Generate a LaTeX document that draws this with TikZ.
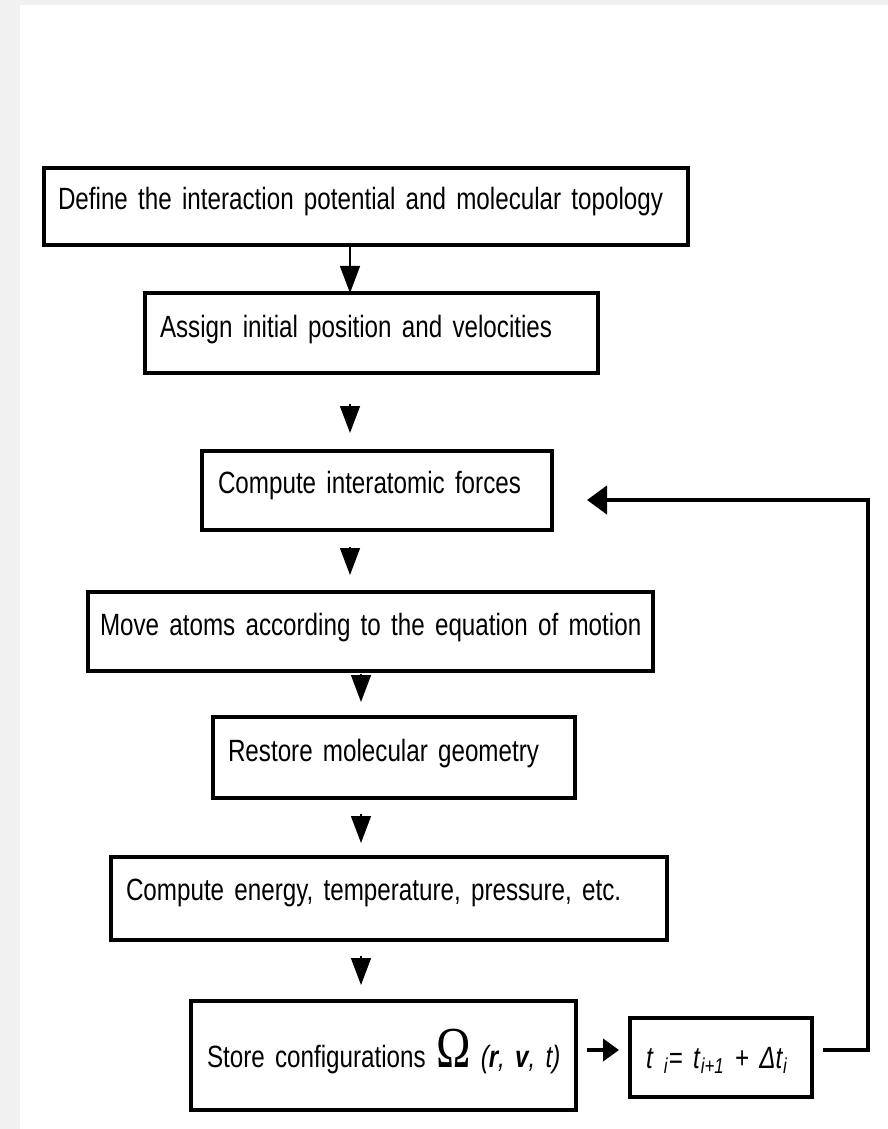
\documentclass[tikz,border=0pt]{standalone}
\usepackage{fontspec}
\setmainfont{Liberation Sans}[FakeStretch=0.787]
\newfontfamily\omegafont{Liberation Serif}[FakeStretch=0.8]
\usepackage{tikz}
\usetikzlibrary{arrows.meta,positioning,calc}
\definecolor{pagegray}{HTML}{F1F1F1}
\newcommand{\stagefont}{\fontsize{17.5}{21}\selectfont}
\tikzset{stage/.style={draw,line width=2.3pt,anchor=north west,outer sep=0pt,
  inner ysep=0pt,align=left,font=\stagefont},
  down/.style={-{Triangle[length=5.4mm,width=4mm]},line width=0.8pt},
  flow/.style={-{Triangle[length=3.2mm,width=4.4mm]},line width=2.6pt},
  back/.style={-{Triangle[length=4mm,width=5.6mm]},line width=2.6pt}}
\begin{document}
\begin{tikzpicture}
 \useasboundingbox (0,0) rectangle (17.76,-22.58);
 % page
 \fill[pagegray] (0,0) rectangle (17.76,-22.58);
 \fill[white] (0.40,-0.10) rectangle (17.76,-22.58);
 % steps of the run
 \node[stage,inner xsep=0.28cm,text width=12.32cm,text height=0.84cm,text depth=0.70cm]
  (topo) at (0.88,-3.36) {\mbox{Define the interaction potential and molecular topology}};
 \node[stage,inner xsep=0.30cm,text width=8.46cm,text height=0.88cm,text depth=0.72cm]
  (init) at (2.90,-5.86) {Assign initial position and velocities};
 \node[stage,inner xsep=0.32cm,text width=6.36cm,text height=0.84cm,text depth=0.74cm]
  (force) at (4.04,-9.02) {Compute interatomic forces};
 \node[stage,inner xsep=0.24cm,text width=10.82cm,text height=0.86cm,text depth=0.72cm]
  (move) at (1.76,-11.84) {\mbox{Move atoms according to the equation of motion}};
 \node[stage,inner xsep=0.30cm,text width=6.64cm,text height=0.88cm,text depth=0.74cm]
  (restore) at (4.26,-14.34) {Restore molecular geometry};
 \node[stage,inner xsep=0.30cm,text width=10.52cm,text height=0.86cm,text depth=0.80cm]
  (props) at (2.22,-17.14) {\mbox{Compute energy, temperature, pressure, etc.}};
 \node[stage,inner xsep=0.32cm,text width=7.06cm,text height=1.32cm,text depth=0.86cm]
  (store) at (3.82,-20.02) {\mbox{Store configurations {\omegafont\fontsize{33}{33}\selectfont Ω}
  \textit{(\textbf{r}, \textbf{v}, t)}}};
 \node[stage,inner xsep=0.32cm,text width=3.00cm,text height=1.00cm,text depth=0.58cm]
  (step) at (12.60,-20.36) {\textit{t} \textsubscript{\textit{i}}= \textit{t}\textsubscript{\textit{i+1}}
  + \textit{Δt}\textsubscript{\textit{i}}};
 % connectors
 \coordinate (colA) at (7.00,0);
 \coordinate (colB) at (7.22,0);
 \coordinate (rowT) at (0,-21.00);
 \coordinate (r1) at (17.36,-21.00);
 \coordinate (r2) at (17.36,-10.00);
 \draw[down] (topo.south -| colA) -- (init.north -| colA);
 \draw[down,shorten <=6.2mm,shorten >=3.6mm] (init.south -| colA) -- (force.north -| colA);
 \draw[down,shorten <=3.4mm,shorten >=3.4mm] (force.south -| colA) -- (move.north -| colA);
 \draw[down,shorten <=0.6mm,shorten >=3mm] (move.south -| colB) -- (restore.north -| colB);
 \draw[down,shorten <=3.2mm,shorten >=2.8mm] (restore.south -| colB) -- (props.north -| colB);
 \draw[down,shorten <=3.2mm,shorten >=3.2mm] (props.south -| colB) -- (store.north -| colB);
 \draw[flow,shorten <=2.2mm,shorten >=2.2mm] (store.east |- rowT) -- (step.west |- rowT);
 \draw[back,shorten <=2.2mm,shorten >=7mm] (step.east |- rowT) -- (r1) -- (r2) -- (force.east |- r2);
\end{tikzpicture}
\end{document}
